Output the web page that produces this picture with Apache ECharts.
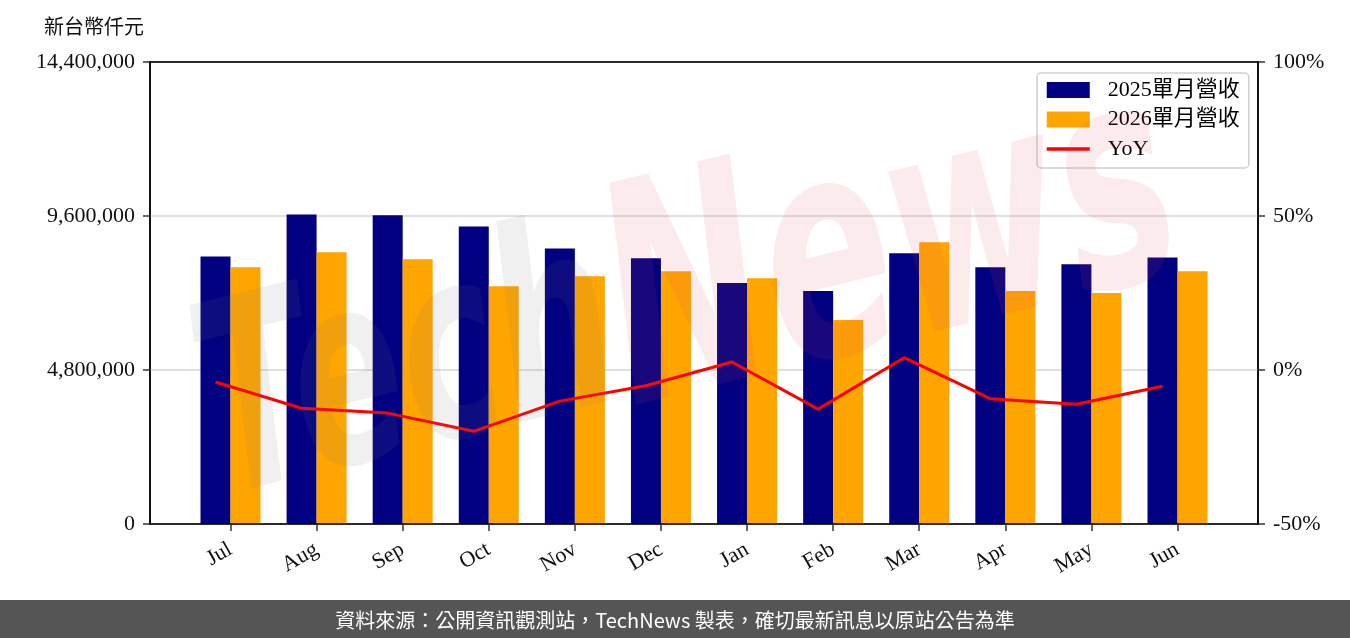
<!DOCTYPE html>
<html>
<head>
<meta charset="utf-8">
<script src="https://cdn.jsdelivr.net/npm/echarts@6/dist/echarts.min.js"></script>
<style>
html,body{margin:0;padding:0;background:#fff;}
#chart{width:1350px;height:638px;}
</style>
</head>
<body>
<div id="chart"></div>
<script>
const months = ['Jul','Aug','Sep','Oct','Nov','Dec','Jan','Feb','Mar','Apr','May','Jun'];
const rev2025 = [8340000, 9650000, 9620000, 9270000, 8590000, 8280000, 7510000, 7260000, 8440000, 8000000, 8100000, 8310000];
const rev2026 = [8000000, 8470000, 8250000, 7410000, 7720000, 7880000, 7660000, 6360000, 8780000, 7260000, 7200000, 7880000];
const yoy = [-3.9, -12.4, -14.0, -19.9, -10.1, -5.1, 2.6, -12.7, 4.0, -9.3, -11.1, -5.3];
const leftTicks = { min: 0, max: 14400000, interval: 4800000 };
const rightTicks = { min: -50, max: 100, interval: 50 };
const seriesNames = ['2025單月營收', '2026單月營收', 'YoY'];
const unitLabel = '新台幣仟元';
const footerText = '資料來源：公開資訊觀測站，TechNews 製表，確切最新訊息以原站公告為準';

const FONT = "'Liberation Serif', 'Noto Sans CJK TC', serif";
const idx = months.map((m, i) => i);

const chart = echarts.init(document.getElementById('chart'), null, { renderer: 'canvas' });
const option = {
  animation: false,
  backgroundColor: '#fff',
  grid: { left: 150, right: 92, top: 62, bottom: 114, show: true, borderColor: '#000', borderWidth: 1.5, backgroundColor: 'transparent' },
  legend: {
    orient: 'vertical',
    left: 1037, top: 73,
    padding: [6, 9, 8, 8],
    itemWidth: 43, itemHeight: 16, itemGap: 7.5,
    borderColor: '#d0d0d0', borderWidth: 1.5, borderRadius: 4,
    backgroundColor: 'rgba(255,255,255,0.85)',
    textStyle: { fontFamily: FONT, fontSize: 22, color: '#000', padding: [0, 0, 0, 13] },
    data: [
      { name: seriesNames[0], icon: 'rect' },
      { name: seriesNames[1], icon: 'rect' },
      { name: seriesNames[2], itemStyle: { color: 'rgba(0,0,0,0)', borderWidth: 0 }, lineStyle: { width: 3.5, color: '#FF0000' } }
    ]
  },
  xAxis: [
    {
      type: 'value', min: -0.935, max: 11.935, z: 3,
      splitLine: { show: false },
      axisLine: { onZero: false, lineStyle: { color: '#000', width: 1.5 } },
      axisTick: { customValues: idx, length: 7, lineStyle: { color: '#333', width: 1.5 } },
      axisLabel: { customValues: idx, formatter: v => months[Math.round(v)], rotate: 30, margin: 24,
                   fontSize: 22, fontFamily: FONT, color: '#111' }
    },
    { type: 'value', position: 'top', min: -0.935 + 0.175, max: 11.935 + 0.175, show: true, z: 3,
      axisLine: { show: true, onZero: false, lineStyle: { color: '#000', width: 1.5 } },
      axisTick: { show: false }, axisLabel: { show: false }, splitLine: { show: false } }
  ],
  yAxis: [
    {
      type: 'value', min: leftTicks.min, max: leftTicks.max, interval: leftTicks.interval,
      axisLine: { show: true, onZero: false, lineStyle: { color: '#000', width: 1.5 } },
      axisTick: { show: true, length: 7, lineStyle: { color: '#333', width: 1.5 } },
      axisLabel: { formatter: v => v.toLocaleString('en-US'), margin: 15, fontSize: 22, fontFamily: FONT, color: '#111' },
      splitLine: { show: true, lineStyle: { color: '#d6d6d6', width: 1.5 } }
    },
    {
      type: 'value', position: 'right', min: rightTicks.min, max: rightTicks.max, interval: rightTicks.interval,
      axisLine: { show: true, onZero: false, lineStyle: { color: '#000', width: 1.5 } },
      axisTick: { show: true, length: 7, lineStyle: { color: '#333', width: 1.5 } },
      axisLabel: { formatter: v => v + '%', margin: 15, fontSize: 22, fontFamily: FONT, color: '#111' },
      splitLine: { show: false }
    }
  ],
  series: [
    { name: seriesNames[0], type: 'bar', xAxisIndex: 0, yAxisIndex: 0, barWidth: 30, barGap: '0%',
      itemStyle: { color: '#000080' }, data: rev2025.map((v, i) => [i, v]) },
    { name: seriesNames[1], type: 'bar', xAxisIndex: 0, yAxisIndex: 0, barWidth: 30, barGap: '0%',
      itemStyle: { color: '#FFA500' }, data: rev2026.map((v, i) => [i, v]) },
    { name: seriesNames[2], type: 'line', xAxisIndex: 1, yAxisIndex: 1, symbol: 'none', z: 5,
      itemStyle: { color: '#FF0000' }, lineStyle: { color: '#FF0000', width: 3 }, data: yoy.map((v, i) => [i, v]) }
  ],
  graphic: [
    { type: 'text', left: 44, top: 16, z: 10,
      style: { text: unitLabel, fontSize: 20, fontFamily: "'Noto Sans CJK TC', sans-serif", fill: '#111' } },
    { type: 'text', x: 690, y: 310, rotation: 0.24, scaleY: 1.6, z: 50, silent: true,
      style: {
        text: '{a|Tech}{b|News}', align: 'center', verticalAlign: 'middle',
        rich: {
          a: { fontSize: 165, fontWeight: 'bold', fontStyle: 'italic', fontFamily: 'DejaVu Sans', fill: 'rgba(120,120,120,0.11)' },
          b: { fontSize: 190, fontWeight: 'bold', fontStyle: 'italic', fontFamily: 'DejaVu Sans', fill: 'rgba(220,70,90,0.11)' }
        }
      } },
    { type: 'rect', left: 0, top: 600, z: 10, shape: { width: 1350, height: 38 }, style: { fill: '#555555' } },
    { type: 'text', x: 675, y: 620, z: 11,
      style: { text: footerText, align: 'center', verticalAlign: 'middle', fontSize: 20,
               fontFamily: "'Noto Sans CJK TC', sans-serif", fill: '#fff' } }
  ]
};
chart.setOption(option);
</script>
</body>
</html>
